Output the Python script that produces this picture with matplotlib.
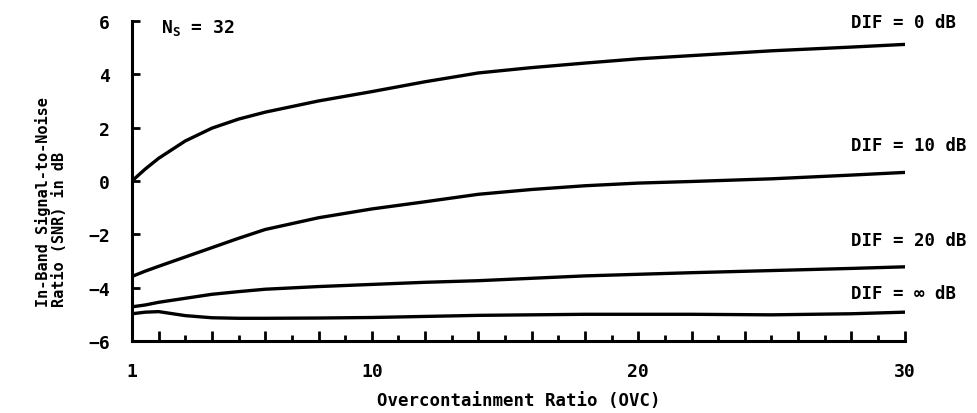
import matplotlib
matplotlib.use("Agg")
import matplotlib.pyplot as plt
from matplotlib.ticker import FixedLocator, FuncFormatter

# overcontainment ratio samples and in-band SNR (dB) for each DIF value
ovc = [1, 1.5, 2, 3, 4, 5, 6, 8, 10, 12, 14, 16, 18, 20, 22, 25, 28, 30]
snr_dif0 = [0.0, 0.45, 0.85, 1.5, 1.98, 2.32, 2.58, 3.0, 3.35, 3.72, 4.05,
            4.25, 4.42, 4.58, 4.7, 4.88, 5.02, 5.12]
snr_dif10 = [-3.58, -3.38, -3.2, -2.85, -2.5, -2.15, -1.82, -1.38, -1.05,
             -0.78, -0.5, -0.32, -0.18, -0.08, -0.02, 0.08, 0.22, 0.32]
snr_dif20 = [-4.72, -4.65, -4.55, -4.4, -4.25, -4.15, -4.06, -3.96, -3.88,
             -3.8, -3.74, -3.65, -3.56, -3.5, -3.44, -3.36, -3.28, -3.22]
snr_difinf = [-4.98, -4.92, -4.9, -5.05, -5.13, -5.15, -5.15, -5.14, -5.12,
              -5.08, -5.04, -5.02, -5.0, -5.0, -5.0, -5.02, -4.98, -4.92]

curves = [snr_dif0, snr_dif10, snr_dif20, snr_difinf]
curve_labels = ["DIF = 0 dB", "DIF = 10 dB", "DIF = 20 dB", "DIF = \u221e dB"]
label_lift = [10, 13, 13, 7]  # points above the curve end

x_labels = [1, 10, 20, 30]
y_ticks = [-6, -4, -2, 0, 2, 4, 6]

plt.rcParams["font.family"] = ["DejaVu Sans Mono", "DejaVu Sans"]
plt.rcParams["font.weight"] = "bold"
plt.rcParams["mathtext.fontset"] = "custom"
plt.rcParams["mathtext.rm"] = "DejaVu Sans Mono:bold"
plt.rcParams["mathtext.sf"] = "DejaVu Sans Mono:bold"

fig = plt.figure(figsize=(9.78, 4.14), dpi=100)
ax = fig.add_axes([0.135, 0.174, 0.790, 0.773])

for y in curves:
    ax.plot(ovc, y, color="black", lw=2.4, solid_joinstyle="round")

for y, text, lift in zip(curves, curve_labels, label_lift):
    ax.annotate(text, xy=(28.0, y[-1]), xytext=(0, lift),
                textcoords="offset points", ha="left", va="bottom",
                fontsize=12.5, fontweight="bold", annotation_clip=False)

ax.text(2.1, 6.15, "N$_\\mathsf{S}$ = 32", fontsize=13, fontweight="bold",
        va="top", ha="left")

ax.set_xlim(1, 30)
ax.set_ylim(-6, 6)

for side in ("top", "right"):
    ax.spines[side].set_visible(False)
for side in ("left", "bottom"):
    ax.spines[side].set_linewidth(2.2)

major_x = [1] + list(range(2, 31, 2))
ax.xaxis.set_major_locator(FixedLocator(major_x))
ax.xaxis.set_minor_locator(FixedLocator(list(range(3, 30, 2))))
ax.xaxis.set_major_formatter(
    FuncFormatter(lambda v, p: f"{int(v)}" if int(v) in x_labels else ""))
ax.set_yticks(y_ticks)

ax.tick_params(axis="x", which="major", direction="in", length=7, width=2,
               pad=15, labelsize=13)
ax.tick_params(axis="x", which="minor", direction="in", length=4, width=2)
ax.tick_params(axis="y", direction="in", length=6, width=2, pad=16,
               labelsize=13)

ax.set_xlabel("Overcontainment Ratio (OVC)", fontsize=12.5,
              fontweight="bold", labelpad=8)

fig.text(51 / 978, 1 - 202 / 414,
         "In-Band Signal-to-Noise\nRatio (SNR) in dB",
         rotation=90, ha="center", va="center", multialignment="left",
         fontsize=11, fontweight="bold", linespacing=1.05)

fig.savefig("out.png", dpi=100, facecolor="white")
